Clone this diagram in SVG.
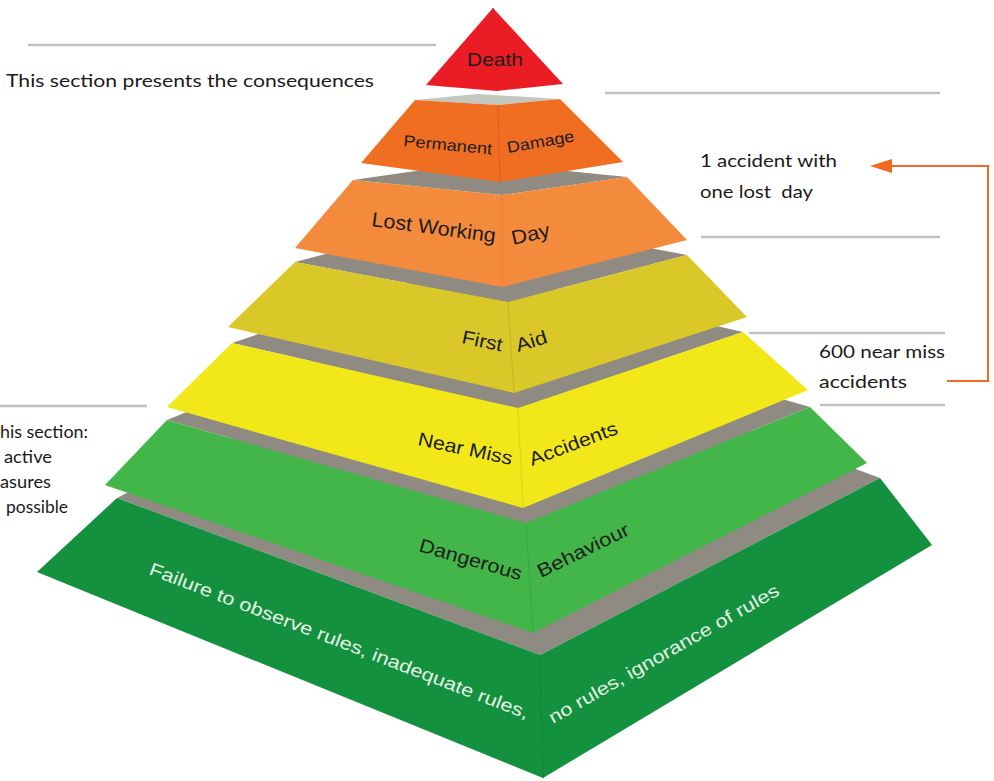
<svg xmlns="http://www.w3.org/2000/svg" width="994" height="781" viewBox="0 0 994 781">
<defs>
<style>
.lbl{font-family:"Liberation Sans",Arial,sans-serif;fill:#1c1c1c;}
.wlbl{font-family:"Liberation Sans",Arial,sans-serif;fill:#e6f1e6;font-size:18px;}
.note{font-family:Lato,"Noto Sans",sans-serif;fill:#1a1a1a;font-size:18px;}
.rule{stroke:#c0c0c0;stroke-width:2.5;fill:none;}
.top{fill:#8f8b82;}
.seam{stroke-width:1;fill:none;}
.conn{stroke:#f26a21;stroke-width:2;fill:none;}
</style>
<marker id="arr" viewBox="0 0 22 14" refX="0" refY="7" markerWidth="22" markerHeight="14" markerUnits="userSpaceOnUse" orient="auto">
<path d="M22,7 L0,0 L0,14 Z" fill="#f26a21"/>
</marker>
</defs>
<rect width="994" height="781" fill="#ffffff"/>

<g id="guides">
<line class="rule" x1="28" y1="45" x2="436" y2="45"/>
<line class="rule" x1="605" y1="93" x2="940" y2="93"/>
<line class="rule" x1="701" y1="237" x2="940" y2="237"/>
<line class="rule" x1="749" y1="333" x2="945" y2="333"/>
<line class="rule" x1="820" y1="405" x2="945" y2="405"/>
<line class="rule" x1="0" y1="406" x2="147" y2="406"/>
</g>

<g id="base-layer">
<polygon class="top" points="117,498 457,321 880,478 540,655"/>
<polygon fill="#13913f" points="117,498 540,655 543,778 37,572"/>
<polygon fill="#13913f" points="540,655 880,478 932,545 543,778"/>
<line class="seam" stroke="#0f7f36" x1="540" y1="655" x2="543" y2="778"/>
<text class="wlbl" x="148" y="574" transform="rotate(21 148 574)" textLength="405" lengthAdjust="spacingAndGlyphs">Failure to observe rules, inadequate rules,</text>
<text class="wlbl" x="553" y="724" transform="rotate(-29.7 553 724)" textLength="262" lengthAdjust="spacingAndGlyphs">no rules, ignorance of rules</text>
</g>

<g id="dangerous-behaviour">
<polygon class="top" points="167,420 451,304 810,407 526,523"/>
<polygon fill="#42b649" points="167,420 526,523 533,633 105,485"/>
<polygon fill="#42b649" points="526,523 810,407 867,463 533,633"/>
<line class="seam" stroke="#3aa742" x1="526" y1="523" x2="533" y2="633"/>
<text class="lbl" font-size="19" x="418" y="551" transform="rotate(16 418 551)" textLength="106" lengthAdjust="spacingAndGlyphs">Dangerous</text>
<text class="lbl" font-size="19" x="541" y="578" transform="rotate(-26 541 578)" textLength="100" lengthAdjust="spacingAndGlyphs">Behaviour</text>
</g>

<g id="near-miss">
<polygon class="top" points="232,343 457,267 743,332 518,408"/>
<polygon fill="#f2e819" points="232,343 518,408 523,508 167,407"/>
<polygon fill="#f2e819" points="518,408 743,332 808,390 523,508"/>
<line class="seam" stroke="#e0d615" x1="518" y1="408" x2="523" y2="508"/>
<text class="lbl" font-size="19" x="417" y="445" transform="rotate(12 417 445)" textLength="96" lengthAdjust="spacingAndGlyphs">Near Miss</text>
<text class="lbl" font-size="19" x="532" y="466" transform="rotate(-20.5 532 466)" textLength="93" lengthAdjust="spacingAndGlyphs">Accidents</text>
</g>

<g id="first-aid">
<polygon class="top" points="295,262 474,215 687,255 508,302"/>
<polygon fill="#d9c828" points="295,262 508,302 514,393 228,327"/>
<polygon fill="#d9c828" points="508,302 687,255 747,317 514,393"/>
<line class="seam" stroke="#c7b722" x1="508" y1="302" x2="514" y2="393"/>
<text class="lbl" font-size="19" x="461" y="343" transform="rotate(12 461 343)" textLength="41" lengthAdjust="spacingAndGlyphs">First</text>
<text class="lbl" font-size="19" x="518" y="352" transform="rotate(-17 518 352)" textLength="32" lengthAdjust="spacingAndGlyphs">Aid</text>
</g>

<g id="lost-working-day">
<polygon class="top" points="353,180 478,162 627,177 502,195"/>
<polygon fill="#f48a3c" points="353,180 502,195 502,287 295,248"/>
<polygon fill="#f48a3c" points="502,195 627,177 687,240 502,287"/>
<line class="seam" stroke="#ef7a3a" x1="502" y1="195" x2="502" y2="287"/>
<text class="lbl" font-size="20" x="371" y="226" transform="rotate(7.5 371 226)" textLength="125" lengthAdjust="spacingAndGlyphs">Lost Working</text>
<text class="lbl" font-size="20" x="513" y="245" transform="rotate(-13 513 245)" textLength="39" lengthAdjust="spacingAndGlyphs">Day</text>
</g>

<g id="permanent-damage">
<polygon fill="#c3c7bf" points="415,100 477,94 560,99 498,105"/>
<polygon fill="#ef6e22" points="415,100 498,105 500,182 361,163"/>
<polygon fill="#ef6e22" points="498,105 560,99 623,162 500,182"/>
<line class="seam" stroke="#e8541e" x1="498" y1="105" x2="500" y2="182"/>
<text class="lbl" font-size="16" x="403" y="146" transform="rotate(5.5 403 146)" textLength="89" lengthAdjust="spacingAndGlyphs">Permanent</text>
<text class="lbl" font-size="16" x="508" y="153" transform="rotate(-10 508 153)" textLength="68" lengthAdjust="spacingAndGlyphs">Damage</text>
</g>

<g id="death">
<polygon fill="#ec1c24" points="493,8 497,91 426,85"/>
<polygon fill="#ec1c24" points="493,8 563,84 497,91"/>
<line class="seam" stroke="#d81a22" x1="493" y1="8" x2="497" y2="91"/>
<text class="lbl" font-size="19" x="467" y="66" textLength="56" lengthAdjust="spacingAndGlyphs">Death</text>
</g>

<g id="note-consequences">
<text class="note" x="6" y="87" textLength="368" lengthAdjust="spacingAndGlyphs">This section presents the consequences</text>
</g>

<g id="note-lost-day">
<text class="note" x="700" y="167" textLength="137" lengthAdjust="spacingAndGlyphs">1 accident with</text>
<text class="note" x="700" y="198" textLength="113" lengthAdjust="spacingAndGlyphs" xml:space="preserve">one lost  day</text>
</g>

<g id="note-near-miss">
<text class="note" x="819" y="358" textLength="126" lengthAdjust="spacingAndGlyphs">600 near miss</text>
<text class="note" x="819" y="388" textLength="88" lengthAdjust="spacingAndGlyphs">accidents</text>
</g>

<g id="note-left">
<text class="note" x="0" y="438" textLength="88" lengthAdjust="spacingAndGlyphs">his section:</text>
<text class="note" x="4" y="463" textLength="48" lengthAdjust="spacingAndGlyphs">active</text>
<text class="note" x="0" y="488" textLength="51" lengthAdjust="spacingAndGlyphs">asures</text>
<text class="note" x="6" y="513" textLength="62" lengthAdjust="spacingAndGlyphs">possible</text>
</g>

<g id="connectors">
<path class="conn" d="M947,381 L988,381 L988,166 L892,166" marker-end="url(#arr)"/>
</g>
</svg>
